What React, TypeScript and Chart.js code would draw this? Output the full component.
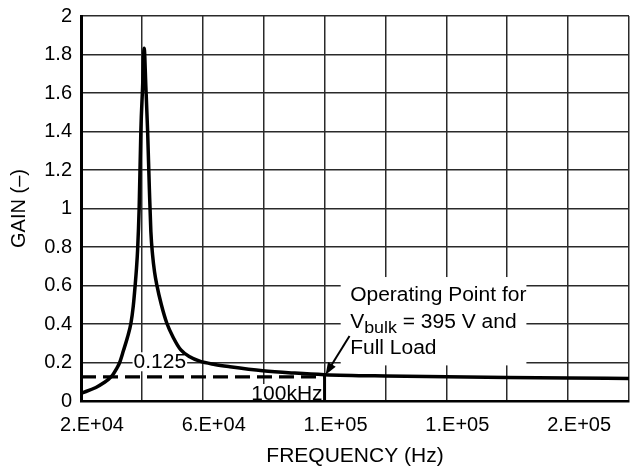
import React, { useEffect, useRef } from 'react';
import { Chart, registerables } from 'chart.js';

Chart.register(...registerables);

const FONT = '"Liberation Sans", Arial, Helvetica, sans-serif';

// Curve data
const freqHz = [20000, 24900, 27500, 29000, 30400, 31500, 32600, 34000, 35250, 36400, 37150, 37800, 38230, 38590, 39100, 39670, 40230, 40750, 41310, 41870, 42460, 42950, 43500, 44160, 44900, 46400, 48200, 50300, 52800, 55700, 59000, 63900, 68900, 79700, 90200, 100000, 120000, 140000, 160000, 180000, 200000];
const gainVals = [0.04, 0.07, 0.095, 0.112, 0.135, 0.163, 0.196, 0.265, 0.33, 0.404, 0.49, 0.603, 0.69, 0.784, 1.0, 1.408, 1.63, 1.832, 1.63, 1.408, 1.1, 0.88, 0.76, 0.67, 0.603, 0.5, 0.404, 0.33, 0.265, 0.23, 0.207, 0.19, 0.178, 0.157, 0.145, 0.137, 0.13, 0.126, 0.122, 0.119, 0.117];

// Reference / operating point
const refGain = 0.125;
const refStartHz = 20000;
const opFreqHz = 100000;
const opGain = 0.137;

// Axis ticks
const xTickValues = [20000, 40000, 60000, 80000, 100000, 120000, 140000, 160000, 180000, 200000];
const xTickLabels = ['2.E+04', '', '6.E+04', '', '1.E+05', '', '1.E+05', '', '2.E+05', ''];
const yTickValues = [0, 0.2, 0.4, 0.6, 0.8, 1, 1.2, 1.4, 1.6, 1.8, 2];
const yTickLabels = ['0', '0.2', '0.4', '0.6', '0.8', '1', '1.2', '1.4', '1.6', '1.8', '2'];

// Annotation texts and their anchors (data units)
const refLabel = '0.125';
const refLabelAt = { x: 45900, y: 0.17 };
const freqLabel = '100kHz';
const noteLine1 = 'Operating Point for';
const noteLine2Main = 'V';
const noteLine2Sub = 'bulk';
const noteLine2Rest = ' = 395 V and';
const noteLine3 = 'Full Load';
const noteBox = { x0: 105300, x1: 166300, y0: 0.185, y1: 0.644 };
const noteTextX = 108400;
const noteBaselines = [0.519, 0.378, 0.244];
const arrowFrom = { x: 108200, y: 0.338 };

const annotationPlugin = {
  id: 'annots',
  beforeDatasetsDraw(chart: any) {
    const { ctx, scales } = chart;
    const xs = scales.x;
    const ys = scales.y;
    const px = (v: number) => xs.getPixelForValue(v);
    const py = (v: number) => ys.getPixelForValue(v);
    ctx.save();
    ctx.fillStyle = '#fff';
    ctx.fillRect(px(noteBox.x0), py(noteBox.y1), px(noteBox.x1) - px(noteBox.x0), py(noteBox.y0) - py(noteBox.y1));
    ctx.font = '20px ' + FONT;
    ctx.textBaseline = 'alphabetic';
    const rw = ctx.measureText(refLabel).width * 1.05;
    const rcx = px(refLabelAt.x);
    const rby = py(refLabelAt.y);
    ctx.fillStyle = '#fff';
    ctx.fillRect(rcx - rw / 2 - 1, rby - 16, rw + 2, 19);
    const fw = ctx.measureText(freqLabel).width * 1.05;
    const fx1 = px(opFreqHz) - 2;
    const fby = py(0) - 1;
    ctx.fillRect(fx1 - fw - 1, fby - 16, fw + 1, 16);
    ctx.fillStyle = '#000';
    const drawStretched = (t: string, x: number, y: number, align: 'left' | 'center' | 'right') => {
      ctx.save();
      ctx.translate(x, y);
      ctx.scale(1.05, 1);
      ctx.textAlign = align;
      ctx.fillText(t, 0, 0);
      ctx.restore();
    };
    drawStretched(refLabel, rcx, rby, 'center');
    drawStretched(freqLabel, fx1, fby, 'right');
    const tx = px(noteTextX);
    ctx.font = '20px ' + FONT;
    drawStretched(noteLine1, tx, py(noteBaselines[0]), 'left');
    const b2 = py(noteBaselines[1]);
    drawStretched(noteLine2Main, tx, b2, 'left');
    let cx = tx + ctx.measureText(noteLine2Main).width * 1.05;
    ctx.font = '17px ' + FONT;
    drawStretched(noteLine2Sub, cx, b2 + 4.5, 'left');
    cx += ctx.measureText(noteLine2Sub).width * 1.05;
    ctx.font = '20px ' + FONT;
    drawStretched(noteLine2Rest, cx, b2, 'left');
    drawStretched(noteLine3, tx, py(noteBaselines[2]), 'left');
    ctx.restore();
  },
  afterDatasetsDraw(chart: any) {
    const { ctx, scales } = chart;
    const xs = scales.x;
    const ys = scales.y;
    const x0 = xs.getPixelForValue(arrowFrom.x);
    const y0 = ys.getPixelForValue(arrowFrom.y);
    const x1 = xs.getPixelForValue(opFreqHz) + 1;
    const y1 = ys.getPixelForValue(opGain);
    const ang = Math.atan2(y1 - y0, x1 - x0);
    const head = 12;
    const hw = 4.5;
    ctx.save();
    ctx.strokeStyle = '#000';
    ctx.fillStyle = '#000';
    ctx.lineWidth = 2;
    ctx.beginPath();
    ctx.moveTo(x0, y0);
    ctx.lineTo(x1 - Math.cos(ang) * head * 0.8, y1 - Math.sin(ang) * head * 0.8);
    ctx.stroke();
    const bx = x1 - Math.cos(ang) * head;
    const by = y1 - Math.sin(ang) * head;
    ctx.beginPath();
    ctx.moveTo(x1, y1);
    ctx.lineTo(bx + Math.sin(ang) * hw, by - Math.cos(ang) * hw);
    ctx.lineTo(bx - Math.sin(ang) * hw, by + Math.cos(ang) * hw);
    ctx.closePath();
    ctx.fill();
    ctx.restore();
  },
};

const zeroPad = (s: any) => {
  s.paddingLeft = 0;
  s.paddingRight = 0;
  s.paddingTop = 0;
  s.paddingBottom = 0;
};

export default function App() {
  const ref = useRef<HTMLCanvasElement>(null);
  useEffect(() => {
    if (!ref.current) return;
    const chart = new Chart(ref.current, {
      type: 'scatter',
      data: {
        datasets: [
          {
            data: [
              { x: refStartHz, y: refGain },
              { x: opFreqHz, y: refGain },
            ],
            showLine: true,
            borderColor: '#000',
            borderWidth: 3.2,
            borderDash: [15, 7],
            pointRadius: 0,
          },
          {
            data: [
              { x: opFreqHz, y: 0 },
              { x: opFreqHz, y: opGain },
            ],
            showLine: true,
            borderColor: '#000',
            borderWidth: 3,
            pointRadius: 0,
          },
          {
            data: freqHz.map((f, i) => ({ x: f, y: gainVals[i] })),
            showLine: true,
            borderColor: '#000',
            borderWidth: 3.5,
            pointRadius: 0,
            cubicInterpolationMode: 'monotone',
          },
        ],
      },
      options: {
        responsive: false,
        animation: false,
        layout: { padding: { top: 16, right: 3, left: 0, bottom: 0 } },
        plugins: { legend: { display: false }, tooltip: { enabled: false } },
        scales: {
          x: {
            type: 'linear',
            min: 20000,
            max: 200000,
            afterBuildTicks: (s: any) => {
              s.ticks = xTickValues.map((v) => ({ value: v }));
            },
            afterFit: (s: any) => {
              s.height = 66;
              zeroPad(s);
            },
            ticks: {
              autoSkip: false,
              maxRotation: 0,
              labelOffset: 11,
              padding: 12,
              color: '#000',
              font: { family: FONT, size: 20 },
              callback: (_v: any, i: number) => xTickLabels[i],
            },
            grid: { color: '#2a2a2a', lineWidth: 1.5, drawTicks: false },
            border: { color: '#000', width: 2.5 },
            title: {
              display: true,
              text: 'FREQUENCY (Hz)',
              color: '#000',
              font: { family: FONT, size: 21, lineHeight: 1 },
              padding: 0,
            },
          },
          y: {
            type: 'linear',
            min: 0,
            max: 2,
            afterBuildTicks: (s: any) => {
              s.ticks = yTickValues.map((v) => ({ value: v }));
            },
            afterFit: (s: any) => {
              s.width = 81;
              zeroPad(s);
            },
            ticks: {
              autoSkip: false,
              padding: 9,
              color: '#000',
              font: { family: FONT, size: 20 },
              callback: (_v: any, i: number) => yTickLabels[i],
            },
            grid: { color: '#2a2a2a', lineWidth: 1.5, drawTicks: false },
            border: { color: '#000', width: 3 },
            title: {
              display: true,
              text: 'GAIN (–)',
              color: '#000',
              font: { family: FONT, size: 20, lineHeight: 1 },
              padding: { top: 9, bottom: 0 },
            },
          },
        },
      },
      plugins: [annotationPlugin],
    } as any);
    return () => chart.destroy();
  }, []);
  return (
    <div style={{ position: 'absolute', left: 0, top: 0, width: 632, height: 467, background: '#fff' }}>
      <canvas ref={ref} width={632} height={467} />
    </div>
  );
}
